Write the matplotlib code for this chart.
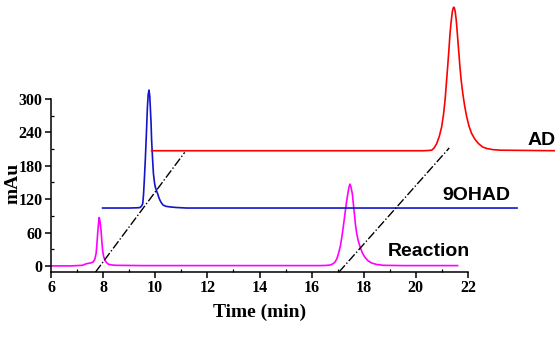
import matplotlib.pyplot as plt
from matplotlib.ticker import MultipleLocator

# Reaction trace (magenta)
t_react = [6.0, 6.8, 7.2, 7.37, 7.50, 7.62, 7.68, 7.73, 7.76, 7.79, 7.82, 7.85, 7.88, 7.92,
           7.95, 7.98, 8.02, 8.07, 8.13, 8.20, 8.35, 8.52,
           9.5, 12.0, 15.0, 16.3, 16.55, 16.71, 16.81, 16.90, 16.97, 17.03, 17.10, 17.16,
           17.22, 17.28, 17.34, 17.39, 17.43, 17.47, 17.51, 17.56, 17.60, 17.64, 17.68,
           17.73, 17.79, 17.86, 17.95, 18.05, 18.17, 18.31, 18.5, 18.75, 19.5, 21.6]
v_react = [0, 0, 1, 4, 5, 7, 12, 22, 38, 58, 75, 87, 80, 64,
           45, 28, 17, 10, 6, 3, 1.5, 1,
           0.5, 0.5, 0.5, 0.5, 0.8, 1.5, 3.5, 7, 13, 22, 35, 52,
           72, 94, 115, 130, 141, 147, 142, 130, 112, 94, 75,
           58, 45, 34, 23, 15, 9, 5, 2.5, 1, 0.5, 0.5]

# 9OHAD trace (blue)
t_ohad = [7.98, 9.0, 9.35, 9.42, 9.48, 9.52, 9.55, 9.58, 9.62, 9.65, 9.68, 9.70, 9.73,
          9.76, 9.79, 9.81, 9.84, 9.86, 9.90, 9.93, 9.97, 10.00, 10.04, 10.09,
          10.13, 10.18, 10.24, 10.31, 10.42, 10.57, 10.8, 11.2, 16.0, 23.88]
v_ohad = [104, 104, 104.5, 105, 108, 112, 128, 154, 192, 226, 262, 286, 308,
          316, 305, 286, 256, 226, 190, 166, 150, 142, 136, 130,
          124, 118, 113, 109, 107, 106, 105, 104, 104, 104]

# AD trace (red)
t_ad = [9.86, 15.0, 20.3, 20.5, 20.61, 20.70, 20.80, 20.90, 20.99, 21.06, 21.12, 21.17,
        21.22, 21.27, 21.31, 21.36, 21.40, 21.43, 21.45, 21.48, 21.51, 21.55,
        21.59, 21.64, 21.69, 21.74, 21.80, 21.87, 21.95, 22.04, 22.14, 22.26, 22.40,
        22.55, 22.72, 22.95, 23.23, 25.4]
v_ad = [207, 207, 207, 207.5, 208, 212, 220, 233, 250, 272, 298, 328,
        358, 390, 418, 442, 457, 463, 465, 463, 457, 441,
        418, 388, 358, 333, 310, 288, 268, 251, 238, 228, 220,
        214, 211, 209, 208, 207]

# dash-dot guide lines
guide1_t = [7.71, 11.13]
guide1_v = [-11, 204]
guide2_t = [17.05, 21.28]
guide2_v = [-11, 212]

fig = plt.figure(figsize=(5.55, 3.39), dpi=100)
ax = fig.add_axes([51 / 555, 1 - 272 / 339, (468 - 51) / 555, (272 - 99) / 339])

ax.plot(t_react, v_react, color='#ff00ff', lw=1.2, clip_on=False)
ax.plot(t_ohad, v_ohad, color='#1414c8', lw=1.2, clip_on=False)
ax.plot(t_ad, v_ad, color='#ff0000', lw=1.2, clip_on=False)
ax.plot(guide1_t, guide1_v, color='black', lw=1.0, ls='-.', clip_on=False)
ax.plot(guide2_t, guide2_v, color='black', lw=1.0, ls='-.', clip_on=False)

lbl = dict(family='Liberation Sans', fontweight='bold', fontsize=14, va='center', ha='left')
ax.text(24.27, 226, 'AD', clip_on=False, **lbl)
ax.text(21.0, 127, '9OHAD', clip_on=False, **lbl)
ax.text(18.92, 25, 'Reaction', clip_on=False, **lbl)

ax.set_xlim(6, 22)
ax.set_ylim(-11, 300)
ax.xaxis.set_major_locator(MultipleLocator(2))
ax.xaxis.set_minor_locator(MultipleLocator(1))
ax.yaxis.set_major_locator(MultipleLocator(60))
ax.yaxis.set_minor_locator(MultipleLocator(30))

for s in ['top', 'right']:
    ax.spines[s].set_visible(False)
for s in ['left', 'bottom']:
    ax.spines[s].set_linewidth(1.1)

ax.tick_params(which='major', direction='out', length=4, width=1.1, pad=2)
ax.tick_params(which='minor', direction='in', length=2.5, width=0.9)
for t in ax.get_xticklabels() + ax.get_yticklabels():
    t.set_fontfamily('Liberation Serif')
    t.set_fontweight('bold')
    t.set_fontsize(11.5)

ax.set_xlabel('Time (min)', family='Liberation Serif', fontweight='bold', fontsize=14, labelpad=5)
ax.set_ylabel('mAu', family='Liberation Serif', fontweight='bold', fontsize=14, va='center')
ax.yaxis.set_label_coords(-0.092, 0.51)

fig.savefig('out.png', dpi=100)
